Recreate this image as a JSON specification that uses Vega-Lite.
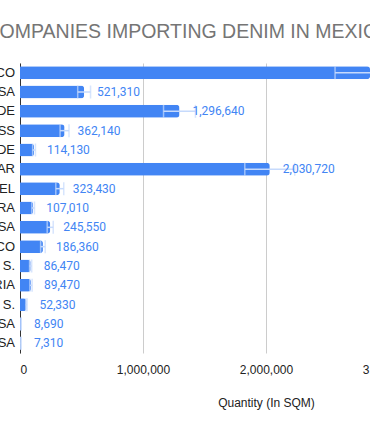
{
  "$schema": "https://vega.github.io/schema/vega-lite/v6.json",
  "autosize": {"type": "none"},
  "padding": {"left": 20, "top": 63, "right": 0, "bottom": 78},
  "width": 492,
  "height": 290,
  "background": "white",
  "title": {
    "text": "COMPANIES IMPORTING DENIM IN MEXICO",
    "font": "Liberation Sans",
    "fontSize": 19.5,
    "fontWeight": "normal",
    "color": "#757575",
    "anchor": "start",
    "frame": "group",
    "dx": -34.5,
    "baseline": "alphabetic",
    "offset": 6
  },
  "data": {
    "values": [
      {"row": 1, "label": "CO", "value": 2846000, "low": 2561400, "high": 3130600},
      {"row": 2, "label": "SA", "value": 521310, "low": 469180, "high": 573440},
      {"row": 3, "label": "DE", "value": 1296640, "low": 1166980, "high": 1426300},
      {"row": 4, "label": "SS", "value": 362140, "low": 325930, "high": 398350},
      {"row": 5, "label": "DE", "value": 114130, "low": 102720, "high": 125540},
      {"row": 6, "label": "AR", "value": 2030720, "low": 1827650, "high": 2233790},
      {"row": 7, "label": "EL", "value": 323430, "low": 291090, "high": 355770},
      {"row": 8, "label": "RA", "value": 107010, "low": 96310, "high": 117710},
      {"row": 9, "label": "SA", "value": 245550, "low": 221000, "high": 270110},
      {"row": 10, "label": "CO", "value": 186360, "low": 167720, "high": 205000},
      {"row": 11, "label": "O S.", "value": 86470, "low": 77820, "high": 95120},
      {"row": 12, "label": "RIA", "value": 89470, "low": 80520, "high": 98420},
      {"row": 13, "label": "I S.", "value": 52330, "low": 47100, "high": 57560},
      {"row": 14, "label": "SA", "value": 8690, "low": 7820, "high": 9560},
      {"row": 15, "label": "SA", "value": 7310, "low": 6580, "high": 8040}
    ]
  },
  "encoding": {
    "y": {
      "field": "row",
      "type": "ordinal",
      "sort": "ascending",
      "scale": {"paddingInner": 0.33, "paddingOuter": 0.165},
      "axis": {"labels": false, "ticks": false, "title": null, "domainColor": "#333333", "domainWidth": 1, "grid": false}
    }
  },
  "layer": [
    {
      "mark": {"type": "bar", "color": "#4285f4", "cornerRadiusEnd": 3},
      "encoding": {
        "x": {
          "field": "value",
          "type": "quantitative",
          "scale": {"domain": [0, 4000000], "nice": false},
          "axis": {
            "values": [0, 1000000, 2000000, 3000000, 4000000],
            "labelExpr": "format(datum.value, ',')",
            "title": "Quantity (In SQM)",
            "titleFont": "Liberation Sans",
            "titleFontSize": 12,
            "titleFontWeight": "normal",
            "titleColor": "#222222",
            "titlePadding": 22,
            "labelFont": "Liberation Sans",
            "labelFontSize": 12,
            "labelColor": "#222222",
            "labelPadding": 11,
            "domain": false,
            "ticks": false,
            "grid": true,
            "gridColor": "#cccccc",
            "gridWidth": 1
          }
        }
      }
    },
    {
      "mark": {"type": "rule", "color": "#c6dafc", "strokeWidth": 1.5},
      "encoding": {"x": {"field": "low", "type": "quantitative"}, "x2": {"field": "high"}}
    },
    {
      "mark": {"type": "tick", "color": "#c6dafc", "orient": "vertical", "size": 13, "thickness": 1.5},
      "encoding": {"x": {"field": "low", "type": "quantitative"}}
    },
    {
      "mark": {"type": "tick", "color": "#c6dafc", "orient": "vertical", "size": 13, "thickness": 1.5},
      "encoding": {"x": {"field": "high", "type": "quantitative"}}
    },
    {
      "mark": {"type": "text", "align": "left", "baseline": "middle", "dx": 13, "font": "Roboto", "fontSize": 12, "color": "#4285f4"},
      "encoding": {
        "x": {"field": "value", "type": "quantitative"},
        "text": {"field": "value", "type": "quantitative", "format": ","}
      }
    },
    {
      "mark": {"type": "text", "align": "right", "baseline": "middle", "dx": -5, "font": "Liberation Sans", "fontSize": 13, "color": "#222222"},
      "encoding": {
        "x": {"datum": 0},
        "text": {"field": "label", "type": "nominal"}
      }
    }
  ],
  "config": {"view": {"stroke": null}}
}
